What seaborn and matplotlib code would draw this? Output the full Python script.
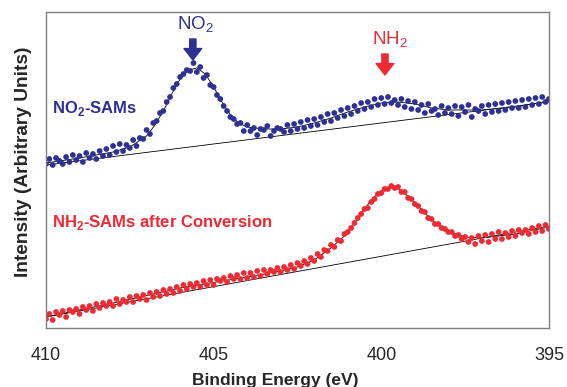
import numpy as np
import pandas as pd
import matplotlib
matplotlib.use("Agg")
import matplotlib.pyplot as plt
import seaborn as sns

# Binding energy grid of the scans (eV), 0.1 eV steps
energy = np.round(np.linspace(410, 395, 151), 1)

# NO2-SAMs spectrum (offset up)
no2_counts = [
    164, 169, 163, 170, 167, 164, 171, 166, 173, 168,
    172, 166, 175, 170, 174, 169, 177, 172, 179, 173,
    182, 176, 184, 177, 183, 180, 188, 182, 190, 189,
    198, 194, 205, 207, 215, 217, 226, 231, 240, 244,
    251, 254, 258, 257, 265, 256, 261, 250, 253, 243,
    241, 233, 229, 222, 217, 211, 209, 204, 205, 197,
    203, 197, 200, 193, 199, 198, 202, 192, 197, 200,
    199, 196, 203, 197, 204, 199, 206, 200, 208, 202,
    209, 203, 211, 206, 214, 207, 215, 210, 218, 212,
    220, 214, 222, 217, 225, 219, 226, 221, 229, 223,
    230, 224, 231, 225, 228, 223, 229, 221, 227, 219,
    226, 218, 223, 215, 224, 217, 219, 213, 222, 215,
    220, 214, 222, 212, 221, 216, 223, 211, 219, 217,
    222, 214, 223, 216, 224, 217, 225, 218, 226, 220,
    227, 220, 228, 221, 229, 223, 230, 224, 231, 226,
    229,
]

# NH2-SAMs after conversion
nh2_counts = [
    9, 14, 8, 16, 13, 17, 11, 18, 16, 19,
    14, 21, 18, 22, 17, 24, 20, 25, 22, 26,
    22, 29, 24, 28, 26, 31, 26, 32, 29, 33,
    28, 35, 31, 36, 32, 38, 34, 39, 35, 41,
    37, 43, 39, 44, 41, 45, 41, 47, 43, 48,
    43, 49, 47, 50, 46, 52, 49, 53, 49, 55,
    50, 55, 51, 57, 52, 58, 54, 58, 56, 60,
    56, 61, 58, 63, 59, 65, 62, 67, 64, 70,
    67, 74, 71, 78, 77, 83, 81, 88, 87, 94,
    96, 100, 105, 110, 114, 119, 120, 126, 129, 134,
    135, 139, 139, 142, 140, 141, 136, 136, 130, 129,
    124, 122, 117, 116, 110, 109, 104, 104, 100, 99,
    96, 96, 92, 93, 89, 91, 86, 90, 84, 92,
    87, 93, 86, 94, 89, 96, 89, 95, 91, 97,
    92, 98, 95, 98, 94, 100, 96, 102, 97, 103,
    99,
]

# fitted envelopes (thin black curves)
no2_fit_e = [410, 409, 408, 407.5, 407, 406.75, 406.5, 406.25, 406, 405.75, 405.5,
             405.25, 405, 404.75, 404.5, 404.25, 404, 403.5, 403, 402.5, 402,
             401.5, 401, 400.5, 400, 399.5, 399, 398.5, 398, 397, 396, 395]
no2_fit = [165, 170, 176, 181, 192, 203, 217, 234, 249, 258, 260,
           254, 241, 226, 213, 205, 201, 199, 199, 201, 205,
           210, 216, 221, 225, 226, 224, 220, 218, 218, 221, 227]
nh2_fit_e = [410, 408, 406, 404, 403, 402.5, 402, 401.5, 401, 400.75, 400.5,
             400.25, 400, 399.75, 399.5, 399.25, 399, 398.75, 398.5, 398.25,
             398, 397.5, 397, 396.5, 396, 395]
nh2_fit = [11, 25, 40, 51, 57, 61, 68, 80, 95, 107, 119,
           130, 137, 141, 140, 133, 125, 117, 108, 102,
           97, 91, 90, 92, 94, 101]

# straight backgrounds
no2_base_e = [410, 395]
no2_base = [163, 226]
nh2_base_e = [410, 395]
nh2_base = [11, 102]

blue = "#2e3192"
red = "#ee2a33"

sns.set_style("white")
plt.rcParams['font.family'] = ['Liberation Sans', 'DejaVu Sans']
plt.rcParams['mathtext.fontset'] = 'custom'
plt.rcParams['mathtext.rm'] = 'Liberation Sans'
plt.rcParams['mathtext.bf'] = 'Liberation Sans:bold'

df = pd.DataFrame({
    'Energy': np.concatenate([energy, energy]),
    'Intensity': no2_counts + nh2_counts,
    'Sample': ['NO2'] * len(energy) + ['NH2'] * len(energy),
})

fig = plt.figure(figsize=(5.67, 3.87), dpi=100)
ax = fig.add_axes([0.0811, 0.1525, 0.887, 0.8165])

# fits and baselines under the dots
ax.plot(no2_base_e, no2_base, color='black', lw=0.6, zorder=1)
ax.plot(nh2_base_e, nh2_base, color='black', lw=0.6, zorder=1)
ax.plot(no2_fit_e, no2_fit, color='black', lw=0.6, zorder=1)
ax.plot(nh2_fit_e, nh2_fit, color='black', lw=0.6, zorder=1)

sns.scatterplot(data=df, x='Energy', y='Intensity', hue='Sample',
                palette={'NO2': blue, 'NH2': red}, s=17, linewidth=0,
                legend=False, ax=ax, zorder=2)

ax.set_xlim(410, 395)
ax.set_ylim(0, 316)
ax.set_xticks([410, 405, 400, 395])
ax.set_yticks([])
ax.tick_params(axis='x', direction='out', length=6, width=1, color='#808080',
               labelsize=13, pad=8)
for sp in ax.spines.values():
    sp.set_color('#808080')
    sp.set_linewidth(1)

ax.set_xlabel("Binding Energy (eV)", fontsize=12.5, fontweight='bold')
ax.xaxis.set_label_coords(0.455, -0.142)
ax.set_ylabel("Intensity (Arbitrary Units)", fontsize=13.8, fontweight='bold')
ax.yaxis.set_label_coords(-0.028, 0.525)

# peak labels and arrows
ax.text(405.53, 298, r'NO$_\mathrm{2}$', color=blue, fontsize=13.5,
        ha='center', va='baseline')
ax.annotate('', xy=(405.62, 268), xytext=(405.62, 289),
            arrowprops=dict(arrowstyle='simple,head_length=0.55,head_width=0.85,tail_width=0.3',
                            color=blue, mutation_scale=15, shrinkA=0, shrinkB=0))
ax.text(399.74, 283, r'NH$_\mathrm{2}$', color=red, fontsize=13.5,
        ha='center', va='baseline')
ax.annotate('', xy=(399.89, 253), xytext=(399.89, 274),
            arrowprops=dict(arrowstyle='simple,head_length=0.55,head_width=0.85,tail_width=0.3',
                            color=red, mutation_scale=15, shrinkA=0, shrinkB=0))

# sample labels
ax.text(409.82, 215, r'NO$_\mathbf{2}$-SAMs', color=blue, fontsize=12,
        fontweight='bold', ha='left', va='baseline')
ax.text(409.82, 101, r'NH$_\mathbf{2}$-SAMs after Conversion', color=red,
        fontsize=12, fontweight='bold', ha='left', va='baseline')

fig.savefig("out.png", dpi=100)
